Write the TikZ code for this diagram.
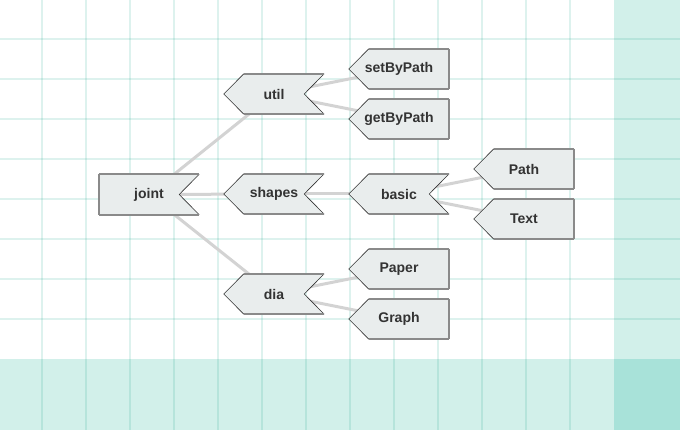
\documentclass[tikz,border=0pt]{standalone}
\usepackage{fontspec}
\setmainfont{Liberation Sans}
\definecolor{bandc}{HTML}{D2F0EA}
\definecolor{cornerc}{HTML}{A8E2D9}
\definecolor{gridteal}{HTML}{1AA58A}
\definecolor{boxfill}{HTML}{E9EDED}
\definecolor{boxedge}{HTML}{8A8A8A}
\definecolor{slantedge}{HTML}{333333}
\definecolor{connc}{HTML}{D3D3D3}
\definecolor{txtc}{HTML}{333333}
\pgfdeclarelayer{bg}
\pgfdeclarelayer{edges}
\pgfdeclarelayer{shapes}
\pgfsetlayers{bg,edges,shapes,main}
\tikzset{
  gridline/.style={draw=gridteal, draw opacity=0.15, line width=2pt},
  conn/.style={draw=connc, line width=3pt},
  lbl/.style={minimum width=100pt, minimum height=40pt, inner sep=0pt, draw=none,
    font=\fontsize{14}{16}\selectfont\bfseries, text=txtc},
  thickedge/.style={draw=boxedge, line width=2pt},
  thinedge/.style={draw=slantedge, line width=0.6pt},
}
% #1 node name, #2 left point depth (0 = straight), #3 right notch depth (0 = straight)
\newcommand\tagshape[3]{%
  \begin{pgfonlayer}{shapes}
  \fill[boxfill] ([xshift=#2]#1.north west) -- (#1.north east) -- ([xshift=-#3]#1.east)
     -- (#1.south east) -- ([xshift=#2]#1.south west) -- (#1.west) -- cycle;
  \draw[thinedge] ([xshift=#2]#1.north west) -- (#1.west) -- ([xshift=#2]#1.south west);
  \draw[thinedge] (#1.north east) -- ([xshift=-#3]#1.east) -- (#1.south east);
  \draw[thickedge] ([xshift=#2]#1.north west) -- (#1.north east);
  \draw[thickedge] ([xshift=#2]#1.south west) -- (#1.south east);
  \ifnum#2=0 \draw[thickedge] (#1.north west) -- (#1.south west);\fi
  \ifnum#3=0 \draw[thickedge] (#1.north east) -- (#1.south east);\fi
  \end{pgfonlayer}}
\begin{document}
\begin{tikzpicture}[x=1pt,y=-1pt]
\useasboundingbox (0,0) rectangle (680,430);
\begin{pgfonlayer}{bg}
  \fill[bandc] (614,0) rectangle (680,430);
  \fill[bandc] (0,359) rectangle (680,430);
  \fill[cornerc] (614,359) rectangle (680,430);
  \foreach \x in {42,86,...,570} \draw[gridline] (\x,0) -- (\x,430);
  \foreach \y in {39,79,...,319} \draw[gridline] (0,\y) -- (680,\y);
\end{pgfonlayer}

\node[lbl] (joint) at (149,194.5) {joint};
\node[lbl] (util) at (274,94) {util};
\node[lbl] (shapes) at (274,194) {shapes};
\node[lbl] (dia) at (274,294) {dia};
\node[lbl] (setByPath) at (399,69) {setByPath};
\node[lbl] (getByPath) at (399,119) {getByPath};
\node[lbl] (basic) at (399,194) {basic};
\node[lbl] (Paper) at (399,269) {Paper};
\node[lbl] (Graph) at (399,319) {Graph};
\node[lbl] (Path) at (524,169) {Path};
\node[lbl] (Text) at (524,219) {Text};

\begin{pgfonlayer}{edges}
  \draw[conn] (joint.center) -- (util.center);
  \draw[conn] (joint.center) -- (shapes.center);
  \draw[conn] (joint.center) -- (dia.center);
  \draw[conn] (util.center) -- (setByPath.center);
  \draw[conn] (util.center) -- (getByPath.center);
  \draw[conn] (shapes.center) -- (basic.center);
  \draw[conn] (basic.center) -- (Path.center);
  \draw[conn] (basic.center) -- (Text.center);
  \draw[conn] (dia.center) -- (Paper.center);
  \draw[conn] (dia.center) -- (Graph.center);
\end{pgfonlayer}

\tagshape{joint}{0}{20}
\tagshape{util}{20}{20}
\tagshape{shapes}{20}{20}
\tagshape{dia}{20}{20}
\tagshape{basic}{20}{20}
\tagshape{setByPath}{20}{0}
\tagshape{getByPath}{20}{0}
\tagshape{Paper}{20}{0}
\tagshape{Graph}{20}{0}
\tagshape{Path}{20}{0}
\tagshape{Text}{20}{0}
\end{tikzpicture}
\end{document}
